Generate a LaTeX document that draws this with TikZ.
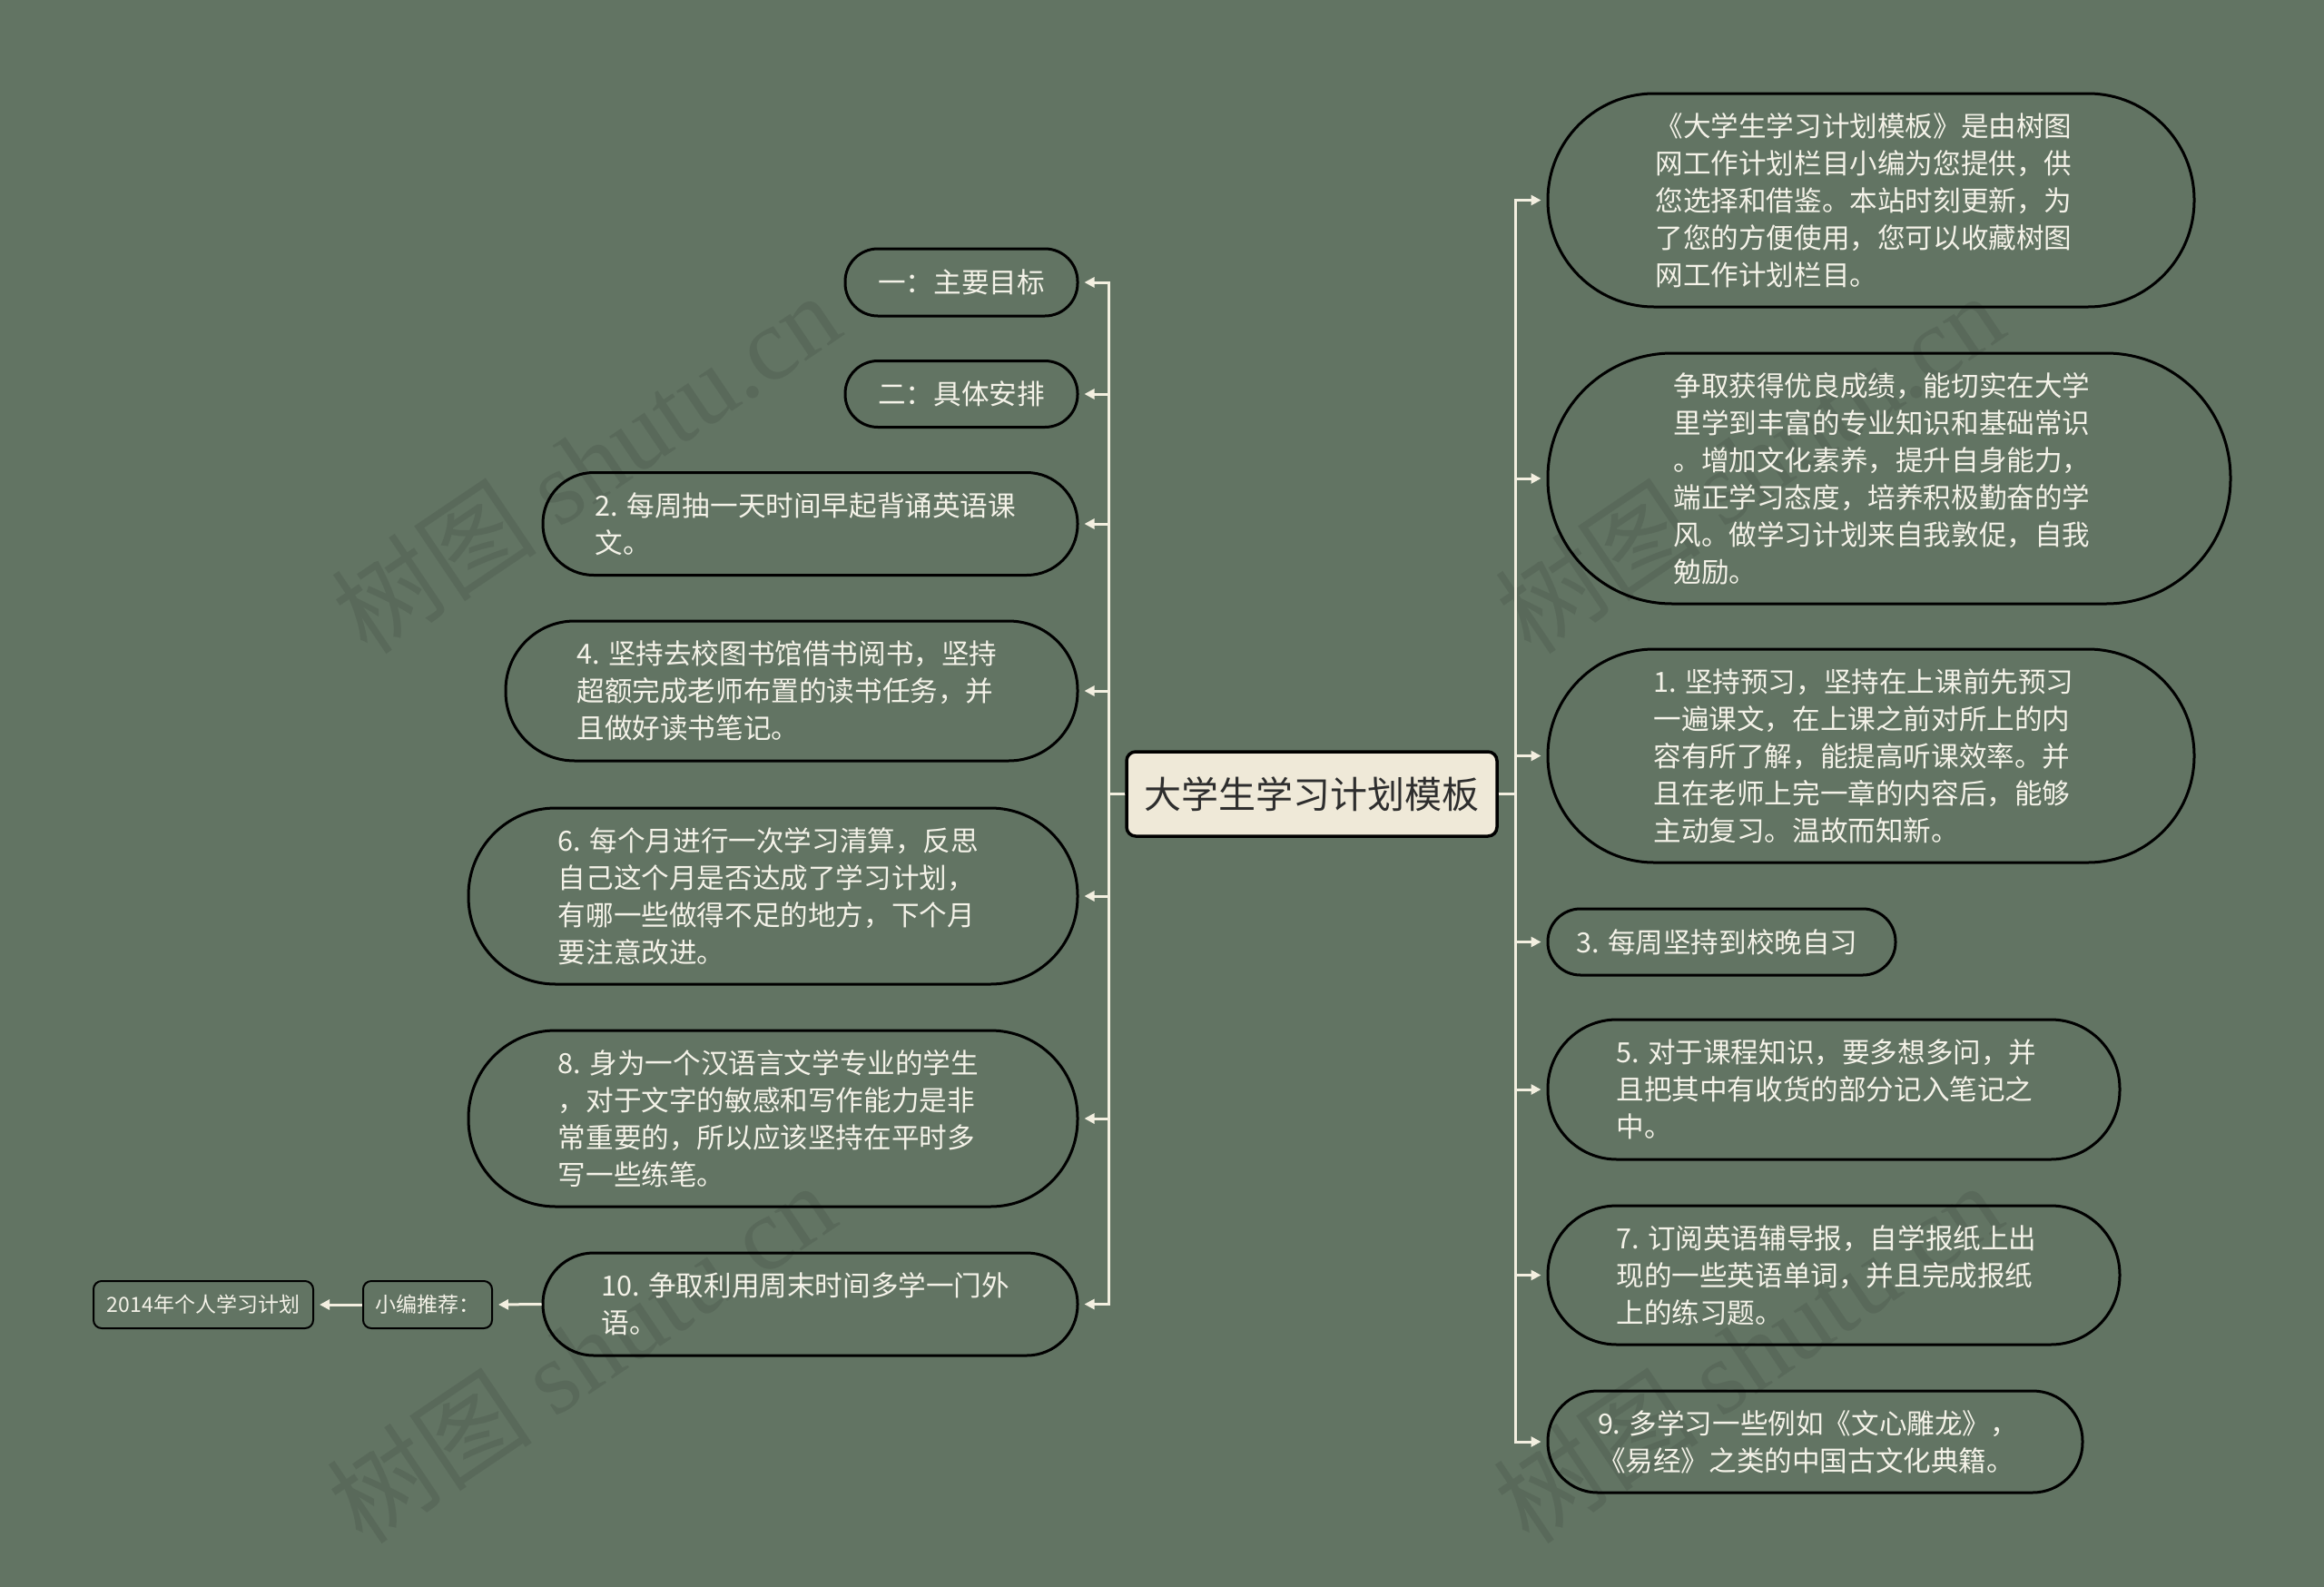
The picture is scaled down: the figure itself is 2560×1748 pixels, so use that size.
\documentclass[tikz,border=0pt]{standalone}
\usepackage{fontspec}
\setmainfont{Noto Sans CJK SC}
\newfontfamily\wmserif{Liberation Serif}
\usetikzlibrary{arrows.meta}
\definecolor{bg}{HTML}{627463}
\definecolor{wm}{HTML}{59695A}
\definecolor{leaftext}{HTML}{F4F2E8}
\definecolor{conncol}{HTML}{F3EFE0}
\definecolor{rootfill}{HTML}{EFE9D8}
\definecolor{roottext}{HTML}{2E2E2E}
\newcommand{\padR}{\rule{16pt}{0pt}}
\newcommand{\padL}{\rule{10pt}{0pt}}
\begin{document}
\begin{tikzpicture}[x=1pt,y=-1pt,
  leaf/.style={draw=black, line width=3pt, text=leaftext, align=left, inner sep=0pt,
    font=\fontsize{30.6}{41}\selectfont},
  small/.style={draw=black, line width=2pt, text=leaftext, inner sep=0pt, rounded corners=9pt,
    font=\fontsize{23}{27}\selectfont},
  rootbox/.style={draw=black, line width=3.5pt, fill=rootfill, text=roottext, inner sep=0pt,
    rounded corners=10pt, font=\fontsize{41}{48}\selectfont},
  conn/.style={draw=conncol, line width=3pt, -{Triangle[length=11pt,width=11pt]}, shorten >=6pt},
  wmark/.style={text=wm, rotate=34, font=\fontsize{114}{116}\selectfont}
]
\useasboundingbox (0,0) rectangle (2560,1748);
\fill[bg] (0,0) rectangle (2560,1748);

% watermarks
\node[wmark] (wm1) at (645,510) {树图 {\wmserif shutu.cn}};
\node[wmark] (wm2) at (640,1490) {树图 {\wmserif shutu.cn}};
\node[wmark] (wm3) at (1927,510) {树图 {\wmserif shutu.cn}};
\node[wmark] (wm4) at (1925,1490) {树图 {\wmserif shutu.cn}};

% root
\node[rootbox, minimum width=408pt, minimum height=93pt] (root) at (1445,874.5) {大学生学习计划模板};

% left nodes
\node[leaf, minimum width=256pt, minimum height=74pt, rounded corners=36pt] (L1) at (1059,311) {一：主要目标};
\node[leaf, minimum width=256pt, minimum height=73pt, rounded corners=36pt] (L2) at (1059,434) {二：具体安排};
\node[leaf, minimum width=589pt, minimum height=113pt, rounded corners=56pt] (L3) at (892.5,577) {2. 每周抽一天时间早起背诵英语课\padL\\文。};
\node[leaf, minimum width=630pt, minimum height=154pt, rounded corners=76pt] (L4) at (872,761) {4. 坚持去校图书馆借书阅书，坚持\padL\\超额完成老师布置的读书任务，并\\且做好读书笔记。};
\node[leaf, minimum width=671pt, minimum height=194pt, rounded corners=96pt] (L5) at (851.5,987) {6. 每个月进行一次学习清算，反思\padL\\自己这个月是否达成了学习计划，\\有哪一些做得不足的地方，下个月\\要注意改进。};
\node[leaf, minimum width=671pt, minimum height=194pt, rounded corners=96pt] (L6) at (851.5,1232) {8. 身为一个汉语言文学专业的学生\padL\\，对于文字的敏感和写作能力是非\\常重要的，所以应该坚持在平时多\\写一些练笔。};
\node[leaf, minimum width=589pt, minimum height=113pt, rounded corners=56pt] (L7) at (892.5,1436.5) {10. 争取利用周末时间多学一门外\padL\\语。};
\node[small, minimum width=142pt, minimum height=52pt] (xb) at (471,1437) {小编推荐：};
\node[small, minimum width=242pt, minimum height=52pt] (y2014) at (224,1437) {2014年个人学习计划};

% right nodes
\node[leaf, minimum width=712pt, minimum height=235pt, rounded corners=117pt] (R1) at (2061,220.5) {《大学生学习计划模板》是由树图\padR\\网工作计划栏目小编为您提供，供\\您选择和借鉴。本站时刻更新，为\\了您的方便使用，您可以收藏树图\\网工作计划栏目。};
\node[leaf, minimum width=752pt, minimum height=276pt, rounded corners=137pt] (R2) at (2081,527) {争取获得优良成绩，能切实在大学\\里学到丰富的专业知识和基础常识\padR\\。增加文化素养，提升自身能力，\\端正学习态度，培养积极勤奋的学\\风。做学习计划来自我敦促，自我\\勉励。};
\node[leaf, minimum width=712pt, minimum height=235pt, rounded corners=117pt] (R3) at (2061,832.5) {1. 坚持预习，坚持在上课前先预习\padR\\一遍课文，在上课之前对所上的内\\容有所了解，能提高听课效率。并\\且在老师上完一章的内容后，能够\\主动复习。温故而知新。};
\node[leaf, minimum width=383pt, minimum height=73pt, rounded corners=36pt] (R4) at (1896.5,1037.5) {3. 每周坚持到校晚自习\padL};
\node[leaf, minimum width=630pt, minimum height=154pt, rounded corners=76pt] (R5) at (2020,1200) {5. 对于课程知识，要多想多问，并\padR\\且把其中有收货的部分记入笔记之\\中。};
\node[leaf, minimum width=630pt, minimum height=153pt, rounded corners=76pt] (R6) at (2020,1404.5) {7. 订阅英语辅导报，自学报纸上出\padR\\现的一些英语单词，并且完成报纸\\上的练习题。};
\node[leaf, minimum width=589pt, minimum height=112pt, rounded corners=55pt] (R7) at (1999.5,1588) {9. 多学习一些例如《文心雕龙》，\padR\\《易经》之类的中国古文化典籍。};

% spine points
\coordinate (ls) at (1221,874.5);
\coordinate (rs) at (1669,874.5);

\foreach \n in {L1,L2,L3,L4,L5,L6,L7}
  \draw[conn] (root.west) -- (ls) |- (\n.east);
\foreach \n in {R1,R2,R3,R4,R5,R6,R7}
  \draw[conn] (root.east) -- (rs) |- (\n.west);
\draw[conn] (L7.west) -- (xb.east);
\draw[conn] (xb.west) -- (y2014.east);
\end{tikzpicture}
\end{document}
